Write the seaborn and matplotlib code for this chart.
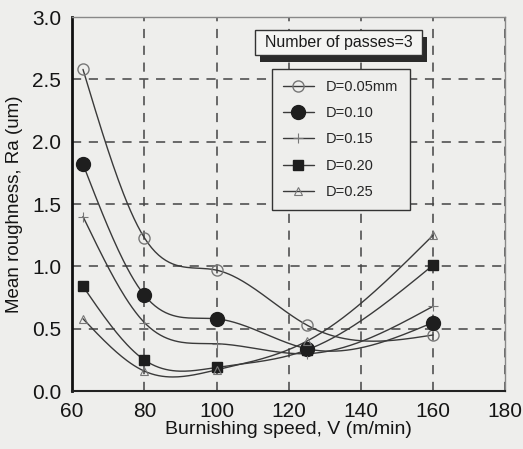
import numpy as np
import pandas as pd
import matplotlib
matplotlib.use("Agg")
import matplotlib.pyplot as plt
import seaborn as sns
from matplotlib.lines import Line2D
from matplotlib.patches import Rectangle

# ---- data ----
speeds = [63, 80, 100, 125, 160]
ra_d005 = [2.58, 1.23, 0.97, 0.53, 0.45]
ra_d010 = [1.82, 0.77, 0.58, 0.34, 0.55]
ra_d015 = [1.40, 0.55, 0.38, 0.30, 0.68]
ra_d020 = [0.84, 0.25, 0.19, 0.33, 1.01]
ra_d025 = [0.58, 0.16, 0.17, 0.40, 1.25]
labels = ["D=0.05mm", "D=0.10", "D=0.15", "D=0.20", "D=0.25"]
series = [ra_d005, ra_d010, ra_d015, ra_d020, ra_d025]
x_ticks = [60, 80, 100, 120, 140, 160, 180]
y_ticks = [0.0, 0.5, 1.0, 1.5, 2.0, 2.5, 3.0]
title_text = "Number of passes=3"


def natural_spline(x, y, n=200):
    """Natural cubic spline used only to draw the smooth connecting curve."""
    x = np.asarray(x, float)
    y = np.asarray(y, float)
    k = len(x)
    h = np.diff(x)
    A = np.zeros((k, k))
    r = np.zeros(k)
    A[0, 0] = A[-1, -1] = 1
    for i in range(1, k - 1):
        A[i, i - 1] = h[i - 1]
        A[i, i] = 2 * (h[i - 1] + h[i])
        A[i, i + 1] = h[i]
        r[i] = 3 * ((y[i + 1] - y[i]) / h[i] - (y[i] - y[i - 1]) / h[i - 1])
    c = np.linalg.solve(A, r)
    xs = np.linspace(x[0], x[-1], n)
    idx = np.clip(np.searchsorted(x, xs) - 1, 0, k - 2)
    dx = xs - x[idx]
    b = (y[1:] - y[:-1]) / h - h * (2 * c[:-1] + c[1:]) / 3
    d = (c[1:] - c[:-1]) / (3 * h)
    ys = y[idx] + b[idx] * dx + c[idx] * dx ** 2 + d[idx] * dx ** 3
    return xs, ys


sns.set_style("white")
plt.rcParams["font.family"] = ["Liberation Sans", "DejaVu Sans"]

bg = "#eeeeec"
fig = plt.figure(figsize=(5.23, 4.49), dpi=100, facecolor=bg)
ax = fig.add_axes([0.138, 0.129, 0.828, 0.833])
ax.set_facecolor(bg)

line_col = "#3a3a3a"
marker_styles = [
    dict(marker="o", ms=8, mfc="none", mec="#777777", mew=1.0),
    dict(marker="o", ms=10, mfc="#1e1e1e", mec="#1e1e1e", mew=1.0),
    dict(marker="+", ms=7, mfc="none", mec="#777777", mew=0.8),
    dict(marker="s", ms=7, mfc="#1e1e1e", mec="#1e1e1e", mew=1.0),
    dict(marker="^", ms=6, mfc="none", mec="#777777", mew=0.8),
]

rows = []
for lab, ys in zip(labels, series):
    for xv, yv in zip(speeds, ys):
        rows.append({"V": xv, "Ra": yv, "D": lab})
df = pd.DataFrame(rows)

for lab, ys, ms in zip(labels, series, marker_styles):
    xs, yy = natural_spline(speeds, ys)
    sns.lineplot(x=xs, y=yy, ax=ax, color=line_col, lw=1.0, zorder=3,
                 estimator=None, sort=False)
    sub = df[df["D"] == lab]
    ax.plot(sub["V"], sub["Ra"], ls="none", zorder=4, **ms)

ax.set_xlim(60, 180)
ax.set_ylim(0, 3.0)
ax.set_xticks(x_ticks)
ax.set_yticks(y_ticks)
ax.set_xticklabels([str(v) for v in x_ticks])
ax.set_yticklabels([f"{v:.1f}" for v in y_ticks])
ax.set_xticks([70, 90, 110, 130, 150, 170], minor=True)
ax.tick_params(axis="both", which="major", labelsize=15, colors="#151515",
               direction="out", length=5, width=1.2, pad=3)
ax.tick_params(axis="x", which="minor", direction="in", length=4, width=1.0,
               color="#333333")
ax.set_xlabel("Burnishing speed, V (m/min)", fontsize=14, color="#151515",
              labelpad=0)
ax.set_ylabel("Mean roughness, Ra (um)", fontsize=13.5, color="#151515",
              labelpad=6)

ax.grid(True, which="major", color="#444444", ls=(0, (6, 5)), lw=1.1)
ax.set_axisbelow(True)

for s in ["top", "right"]:
    ax.spines[s].set_color("#888888")
    ax.spines[s].set_linewidth(1.0)
ax.spines["left"].set_color("#111111")
ax.spines["left"].set_linewidth(2.0)
ax.spines["bottom"].set_color("#222222")
ax.spines["bottom"].set_linewidth(1.5)

# legend
handles = [Line2D([0], [0], color=line_col, lw=1.0, **ms) for ms in marker_styles]
leg = ax.legend(handles, labels, loc="upper left", bbox_to_anchor=(0.462, 0.862),
                frameon=True, fancybox=False, fontsize=10.5, labelspacing=0.85,
                handlelength=2.1, handletextpad=0.85, borderpad=0.75,
                borderaxespad=0, edgecolor="#333333", facecolor=bg, framealpha=1)
leg.get_frame().set_linewidth(1.0)
leg.set_zorder(6)

# title box with shadow
ax.add_patch(Rectangle((0.434, 0.880), 0.386, 0.067, transform=ax.transAxes,
                       facecolor="#2a2a2a", edgecolor="none", zorder=6,
                       clip_on=False))
ax.add_patch(Rectangle((0.4226, 0.898), 0.3854, 0.067, transform=ax.transAxes,
                       facecolor="#f4f4f2", edgecolor="#333333", lw=1.0,
                       zorder=7, clip_on=False))
ax.text(0.615, 0.9315, title_text, transform=ax.transAxes, ha="center",
        va="center", fontsize=11.5, color="#1a1a1a", zorder=8)

fig.savefig("out.png", dpi=100, facecolor=bg)
